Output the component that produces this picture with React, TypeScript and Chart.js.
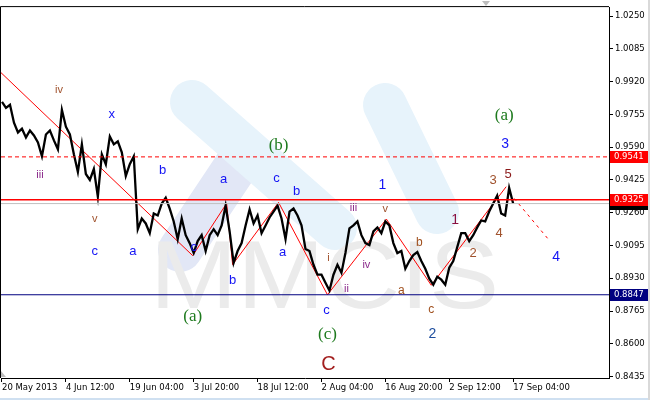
import React, { useEffect, useRef } from "react";
import { Chart, registerables } from "chart.js";

Chart.register(...registerables);

// ---- axis data ----
const xLabels = ["20 May 2013", "4 Jun 12:00", "19 Jun 04:00", "3 Jul 20:00", "18 Jul 12:00", "2 Aug 04:00", "16 Aug 20:00", "2 Sep 12:00", "17 Sep 04:00"];
const xTickSteps = [0, 16, 32, 48, 64, 80, 96, 112, 128];
const yTicks = [0.8435, 0.86, 0.8765, 0.893, 0.9095, 0.926, 0.9425, 0.959, 0.9755, 0.992, 1.0085, 1.025];
const xMin = -0.25;
const xMax = 152;
const yMin = 0.8428;
const yMax = 1.0295;

// ---- price series (one value per time step) ----
const price = [
  0.9818, 0.9788, 0.9803, 0.9713, 0.9664, 0.9683, 0.9639, 0.9674, 0.9649, 0.9614,
  0.9544, 0.9654, 0.9674, 0.9624, 0.9579, 0.9778, 0.9693, 0.9654, 0.9554, 0.9465,
  0.9604, 0.9455, 0.9425, 0.948, 0.9341, 0.9554, 0.9504, 0.9644, 0.9604, 0.9619,
  0.9564, 0.9445, 0.9504, 0.9544, 0.9177, 0.9231, 0.9206, 0.9157, 0.9256, 0.9246,
  0.9306, 0.9335, 0.9281, 0.9216, 0.9127, 0.9231, 0.9147, 0.9107, 0.9057, 0.9117,
  0.9147, 0.9067, 0.9147, 0.9177, 0.9147, 0.9196, 0.9296, 0.9166, 0.9007, 0.9067,
  0.9107, 0.9196, 0.9276, 0.9206, 0.9246, 0.9157, 0.9196, 0.9236, 0.9266, 0.9296,
  0.9231, 0.9127, 0.9266, 0.9281, 0.9246, 0.9196, 0.9077, 0.9067, 0.8998, 0.8948,
  0.8948, 0.8908, 0.8868, 0.8948, 0.8998, 0.8958, 0.9057, 0.9181, 0.9196, 0.9216,
  0.9147, 0.9107, 0.9097, 0.9166, 0.9186, 0.9157, 0.9216, 0.9196, 0.9107, 0.9057,
  0.9067, 0.8978, 0.9017, 0.9047, 0.9062, 0.9017, 0.8978, 0.8928, 0.8898, 0.8938,
  0.8923, 0.8898, 0.8983, 0.9017, 0.9087, 0.9157, 0.9157, 0.9117, 0.9147, 0.9186,
  0.9221, 0.9216, 0.9266, 0.9306, 0.9346, 0.9256, 0.9246, 0.9385, 0.9306,
];

// ---- wave zigzag ----
const waveX = [-0.25, 47.75, 56.25, 57.75, 69.25, 81.5, 96.25, 107.5, 126.25];
const waveY = [0.9965, 0.9044, 0.9307, 0.8999, 0.9312, 0.8847, 0.9228, 0.8895, 0.9391];
const projX = [128.25, 136.75];
const projY = [0.9332, 0.9128];

// ---- horizontal levels ----
const resistLevel = 0.9541;
const pivotLevel = 0.9325;
const bidLevel = 0.9306;
const supportLevel = 0.8847;

// ---- wave labels ----
const labelText = ["iv", "iii", "x", "b", "v", "c", "a", "c", "a", "b", "c", "b", "a", "(b)", "(a)", "c", "(c)", "C", "iii", "v", "1", "i", "iv", "ii", "a", "b", "c", "2", "1", "2", "3", "4", "5", "(a)", "3", "4"];
const labelX = [14.25, 9.5, 27.5, 40.25, 23.25, 23.25, 32.75, 48, 55.5, 57.75, 68.75, 73.75, 70.25, 69.25, 47.75, 81.25, 81.5, 81.75, 88, 96, 95.25, 81.75, 91.25, 86.25, 100, 104.5, 107.5, 107.75, 113.5, 118, 123, 124.5, 126.75, 125.75, 126, 138.75];
const labelY = [0.9878, 0.9451, 0.9754, 0.9471, 0.9228, 0.9064, 0.9064, 0.9084, 0.9426, 0.892, 0.9431, 0.9367, 0.9059, 0.96, 0.8736, 0.8766, 0.8647, 0.8498, 0.9282, 0.9277, 0.9401, 0.9034, 0.8999, 0.8875, 0.8865, 0.9109, 0.8771, 0.8647, 0.9223, 0.9054, 0.9421, 0.9158, 0.9451, 0.9749, 0.9605, 0.9034];
const labelKind = ["romanBrown", "romanPurple", "blue", "blue", "romanBrown", "blue", "blue", "blue", "blue", "blue", "blue", "blue", "blue", "green", "green", "blue", "green", "bigRed", "romanPurple", "romanBrown", "blueNum", "romanBrown", "romanPurple", "romanPurple", "brown", "brown", "brown", "darkBlue", "maroon", "brownNum", "brownNum", "brownNum", "darkRed", "green", "blueNum", "blueNum"];

const kindStyle: Record<string, { color: string; font: string }> = {
  blue: { color: "#1414f5", font: "13px 'Liberation Sans'" },
  blueNum: { color: "#1414f5", font: "14px 'Liberation Sans'" },
  darkBlue: { color: "#1e4e9e", font: "14px 'Liberation Sans'" },
  romanPurple: { color: "#8b2a8b", font: "11px 'Liberation Sans'" },
  romanBrown: { color: "#a0522d", font: "11px 'Liberation Sans'" },
  brown: { color: "#a0501e", font: "12px 'Liberation Sans'" },
  brownNum: { color: "#a0522d", font: "13px 'Liberation Sans'" },
  maroon: { color: "#8b1040", font: "14px 'Liberation Sans'" },
  darkRed: { color: "#8b1a1a", font: "13px 'Liberation Sans'" },
  green: { color: "#1e7a1e", font: "17px 'Liberation Serif'" },
  bigRed: { color: "#a31f1f", font: "20px 'Liberation Sans'" },
};

const tagValues = [bidLevel, pivotLevel, resistLevel, supportLevel];
const tagColors = ["#000000", "#ff0000", "#ff0000", "#000080"];

const AXIS_FONT = { family: "'DejaVu Sans'", size: 8.5 };

const decor = {
  id: "decor",
  beforeDatasetsDraw(chart: any) {
    const { ctx, chartArea } = chart;
    ctx.save();
    ctx.beginPath();
    ctx.rect(chartArea.left, chartArea.top, chartArea.right - chartArea.left, chartArea.bottom - chartArea.top);
    ctx.clip();
    ctx.lineCap = "round";
    const band = (x1: number, y1: number, x2: number, y2: number, c: string) => {
      ctx.strokeStyle = c;
      ctx.lineWidth = 44;
      ctx.beginPath();
      ctx.moveTo(x1, y1);
      ctx.lineTo(x2, y2);
      ctx.stroke();
    };
    band(180, 250, 240, 160, "#e2e7f6");
    band(192, 102, 335, 228, "#e7f3fb");
    band(385, 105, 437, 212, "#e7f3fb");
    ctx.fillStyle = "#ebebeb";
    ctx.font = "97px 'Liberation Sans'";
    ctx.textBaseline = "alphabetic";
    ctx.textAlign = "left";
    ctx.translate(150, 308);
    ctx.scale(1.08, 1);
    ctx.fillText("MMCIS", 0, 0);
    ctx.restore();
  },
  afterDatasetsDraw(chart: any) {
    const { ctx, chartArea, scales } = chart;
    const xs = scales.x;
    const ys = scales.y;
    ctx.save();
    ctx.textAlign = "center";
    ctx.textBaseline = "middle";
    for (let i = 0; i < labelText.length; i++) {
      const st = kindStyle[labelKind[i]];
      ctx.fillStyle = st.color;
      ctx.font = st.font;
      ctx.fillText(labelText[i], xs.getPixelForValue(labelX[i]), ys.getPixelForValue(labelY[i]));
    }
    ctx.strokeStyle = "#000";
    ctx.lineWidth = 1;
    ctx.beginPath();
    ctx.moveTo(chartArea.left - 0.5, chartArea.bottom);
    ctx.lineTo(chartArea.left - 0.5, chartArea.top - 0.5);
    ctx.lineTo(chartArea.right, chartArea.top - 0.5);
    ctx.stroke();
    ctx.restore();
  },
  afterDraw(chart: any) {
    const { ctx, chartArea, scales } = chart;
    const ys = scales.y;
    ctx.save();
    ctx.font = "8.5px 'DejaVu Sans'";
    ctx.textAlign = "left";
    ctx.textBaseline = "middle";
    for (let i = 0; i < tagValues.length; i++) {
      const y = Math.round(ys.getPixelForValue(tagValues[i]));
      ctx.fillStyle = tagColors[i];
      ctx.fillRect(chartArea.right + 1, y - 6, 38, 12);
      ctx.fillStyle = "#ffffff";
      ctx.fillText(tagValues[i].toFixed(4), chartArea.right + 5, y);
    }
    ctx.fillStyle = "#bdbdbd";
    ctx.beginPath();
    ctx.moveTo(482, 1);
    ctx.lineTo(490, 1);
    ctx.lineTo(486, 6);
    ctx.fill();
    ctx.beginPath();
    ctx.moveTo(1, 371);
    ctx.lineTo(1, 377);
    ctx.lineTo(6, 377);
    ctx.fill();
    ctx.fillStyle = "#cfe0f1";
    ctx.fillRect(0, 398, 650, 2);
    ctx.fillStyle = "#d9d9d9";
    ctx.fillRect(648, 0, 2, 400);
    ctx.restore();
  },
};

export default function App() {
  const ref = useRef<HTMLCanvasElement>(null);
  useEffect(() => {
    const canvas = ref.current!;
    const toXY = (xs: number[], ys: number[]) => xs.map((x, i) => ({ x, y: ys[i] }));
    const hline = (v: number) => [{ x: xMin, y: v }, { x: xMax, y: v }];
    const chart = new Chart(canvas, {
      type: "line",
      data: {
        datasets: [
          { data: hline(bidLevel), borderColor: "#c0c0c0", borderWidth: 1 },
          { data: hline(resistLevel), borderColor: "#ff0000", borderWidth: 1, borderDash: [4, 3] },
          { data: hline(pivotLevel), borderColor: "#ff0000", borderWidth: 1.5 },
          { data: hline(supportLevel), borderColor: "#000080", borderWidth: 1 },
          { data: price.map((y, i) => ({ x: i, y })), borderColor: "#000000", borderWidth: 2.3 },
          { data: toXY(waveX, waveY), borderColor: "#ff0000", borderWidth: 1 },
          { data: toXY(projX, projY), borderColor: "#ff0000", borderWidth: 1, borderDash: [3, 4] },
        ] as any,
      },
      options: {
        responsive: false,
        animation: false,
        devicePixelRatio: 1,
        layout: { padding: { left: 1, top: 1, right: 0, bottom: 0 } },
        plugins: { legend: { display: false }, tooltip: { enabled: false } },
        elements: { point: { radius: 0 }, line: { tension: 0 } },
        scales: {
          x: {
            type: "linear",
            position: "bottom",
            min: xMin,
            max: xMax,
            afterBuildTicks: (s: any) => {
              s.ticks = xTickSteps.map((v) => ({ value: v }));
            },
            afterFit: (s: any) => {
              s.height = 22;
            },
            grid: { drawOnChartArea: false, drawTicks: true, tickLength: 4, color: "#000" },
            border: { display: true, color: "#000" },
            ticks: {
              autoSkip: false,
              maxRotation: 0,
              align: "start",
              padding: 1,
              color: "#000",
              font: AXIS_FONT,
              callback: (v: any) => {
                const k = xTickSteps.indexOf(Number(v));
                return k >= 0 ? xLabels[k] : "";
              },
            },
          },
          y: {
            type: "linear",
            position: "right",
            min: yMin,
            max: yMax,
            afterBuildTicks: (s: any) => {
              s.ticks = yTicks.map((v) => ({ value: v }));
            },
            afterFit: (s: any) => {
              s.width = 41;
            },
            grid: { drawOnChartArea: false, drawTicks: true, tickLength: 4, color: "#000" },
            border: { display: true, color: "#000" },
            ticks: {
              autoSkip: false,
              padding: 2,
              color: "#000",
              font: AXIS_FONT,
              callback: (v: any) => Number(v).toFixed(4),
            },
          },
        },
      } as any,
      plugins: [decor],
    });
    return () => chart.destroy();
  }, []);
  return (
    <div style={{ position: "fixed", left: 0, top: 0, width: 650, height: 400, background: "#fff" }}>
      <canvas ref={ref} width={650} height={400} style={{ display: "block" }} />
    </div>
  );
}
